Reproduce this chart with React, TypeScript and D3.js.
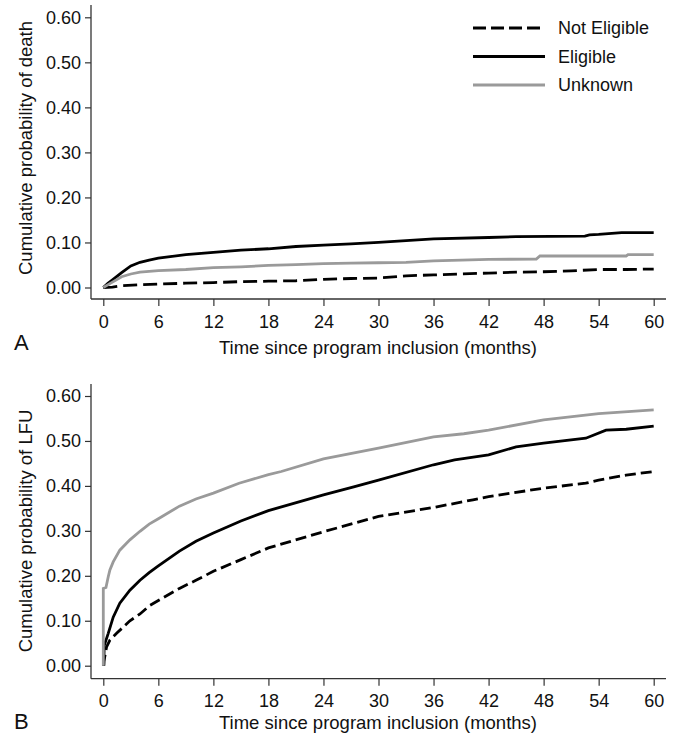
import React, { useEffect, useRef } from 'react';
import * as d3 from 'd3';

// x ticks (months) and y ticks (probability)
const xTicks = [0, 6, 12, 18, 24, 30, 36, 42, 48, 54, 60];
const yTicks = [0, 0.1, 0.2, 0.3, 0.4, 0.5, 0.6];

const legendLabels = ['Not Eligible', 'Eligible', 'Unknown'];

// panel A : cumulative probability of death, [month, value]
const deathNotEligible: [number, number][] = [
  [0, 0], [1, 0.001], [2, 0.004], [4, 0.006], [6, 0.0075], [9, 0.0096], [12, 0.011],
  [15, 0.013], [18, 0.014], [21, 0.015], [24, 0.018], [27, 0.02], [30, 0.021], [33, 0.026],
  [36, 0.028], [39, 0.03], [42, 0.032], [45, 0.034], [48, 0.035], [51, 0.037], [54, 0.04],
  [57, 0.04], [60, 0.041],
];
const deathEligible: [number, number][] = [
  [0, 0], [0.5, 0.009], [1, 0.017], [2, 0.033], [3, 0.048], [4, 0.056], [5, 0.061], [6, 0.065],
  [9, 0.073], [12, 0.078], [15, 0.083], [18, 0.086], [21, 0.091], [24, 0.094], [27, 0.097],
  [30, 0.1], [33, 0.104], [36, 0.108], [42, 0.111], [45, 0.113], [52.5, 0.114], [53, 0.117],
  [54, 0.118], [56.5, 0.122], [60, 0.122],
];
const deathUnknown: [number, number][] = [
  [0, 0], [1, 0.012], [2, 0.024], [3, 0.03], [4, 0.034], [6, 0.0375], [9, 0.04], [12, 0.044],
  [15, 0.046], [18, 0.049], [21, 0.051], [24, 0.053], [27, 0.054], [30, 0.055], [33, 0.056],
  [36, 0.059], [42, 0.0625], [47.2, 0.063], [47.6, 0.07], [57, 0.07], [57.2, 0.073], [60, 0.073],
];

// panel B : cumulative probability of LFU
const lfuNotEligible: [number, number][] = [
  [0.05, 0], [0.07, 0.01], [0.36, 0.042], [0.72, 0.057], [1.45, 0.072], [2.9, 0.1], [4, 0.115],
  [5, 0.133], [6, 0.145], [8.3, 0.172], [10.1, 0.19], [12, 0.21], [15, 0.236], [18, 0.262],
  [24, 0.298], [30, 0.332], [36, 0.352], [40.3, 0.369], [42, 0.376], [48, 0.395], [52.6, 0.406],
  [54, 0.413], [57, 0.424], [60, 0.432],
];
const lfuEligible: [number, number][] = [
  [0.05, 0], [0.1, 0.045], [0.54, 0.072], [1.08, 0.108], [1.8, 0.139], [2.9, 0.168], [4, 0.19],
  [5, 0.207], [6, 0.222], [8.3, 0.255], [10.1, 0.277], [12, 0.295], [15, 0.322], [18, 0.345],
  [24, 0.38], [27.3, 0.398], [30, 0.413], [36, 0.447], [38.3, 0.458], [42, 0.469], [45, 0.487],
  [48, 0.495], [52.6, 0.506], [54.8, 0.524], [57, 0.526], [60, 0.533],
];
const lfuUnknown: [number, number][] = [
  [0, 0], [0, 0.172], [0.29, 0.174], [0.54, 0.198], [0.72, 0.213], [1.08, 0.231], [1.8, 0.257],
  [2.9, 0.28], [4, 0.299], [5, 0.315], [6, 0.327], [8.3, 0.355], [10.1, 0.371], [12, 0.384],
  [14.8, 0.406], [18, 0.425], [19.4, 0.432], [24, 0.46], [30, 0.484], [36, 0.509], [39.3, 0.516],
  [42, 0.524], [48, 0.547], [54, 0.561], [60, 0.569],
];

const FONT = '"Liberation Sans", Arial, Helvetica, sans-serif';
const GRAY = '#9a9a9a';

function drawPanel(svg, o) {
  const x = d3.scaleLinear().domain([0, 60]).range([103.3, 653.7]);
  const y = d3.scaleLinear().domain([0, 0.6]).range([o.y0, o.y6]);
  const g = svg.append('g');

  // axis lines
  g.append('line').attr('x1', 91).attr('x2', 91).attr('y1', o.axTop).attr('y2', o.axY)
    .attr('stroke', '#333').attr('stroke-width', 1.3);
  g.append('line').attr('x1', 91).attr('x2', 666).attr('y1', o.axY).attr('y2', o.axY)
    .attr('stroke', '#333').attr('stroke-width', 1.3);

  const yAx = g.append('g').attr('transform', 'translate(91,0)')
    .call(d3.axisLeft(y).tickValues(yTicks).tickFormat(d3.format('.2f')).tickSize(6).tickPadding(4));
  const xAx = g.append('g').attr('transform', `translate(0,${o.axY})`)
    .call(d3.axisBottom(x).tickValues(xTicks).tickSize(7).tickPadding(9));
  [yAx, xAx].forEach(a => {
    a.select('.domain').remove();
    a.selectAll('line').attr('stroke', '#333').attr('stroke-width', 1.2);
    a.selectAll('text').attr('font-family', FONT).attr('font-size', 18).attr('fill', '#111');
  });

  const line = d3.line<[number, number]>().x(d => x(d[0])).y(d => y(d[1]));
  o.series.forEach(s => {
    g.append('path').attr('d', line(s.data)).attr('fill', 'none')
      .attr('stroke', s.color).attr('stroke-width', 2.8)
      .attr('stroke-dasharray', s.dashed ? o.dash : null);
  });

  g.append('text').attr('transform', `translate(32,${o.yTitleY}) rotate(-90)`)
    .attr('text-anchor', 'middle').attr('font-family', FONT).attr('font-size', 18.5)
    .attr('fill', '#111').text(o.yTitle);
  g.append('text').attr('x', 378).attr('y', o.xTitleY).attr('text-anchor', 'middle')
    .attr('font-family', FONT).attr('font-size', 18.5).attr('fill', '#111')
    .text('Time since program inclusion (months)');
  g.append('text').attr('x', 14).attr('y', o.letterY).attr('font-family', FONT)
    .attr('font-size', 22).attr('fill', '#111').text(o.letter);
}

export default function App() {
  const ref = useRef<SVGSVGElement>(null);

  useEffect(() => {
    const svg = d3.select(ref.current);
    svg.selectAll('*').remove();

    drawPanel(svg, {
      y0: 287.5, y6: 17.3, axTop: 5, axY: 299, xTitleY: 354, letterY: 350, yTitleY: 148,
      yTitle: 'Cumulative probability of death', letter: 'A', dash: '14,6',
      series: [
        { data: deathNotEligible, color: '#000', dashed: true },
        { data: deathEligible, color: '#000', dashed: false },
        { data: deathUnknown, color: GRAY, dashed: false },
      ],
    });
    drawPanel(svg, {
      y0: 665.7, y6: 396, axTop: 384, axY: 678.7, xTitleY: 729, letterY: 729, yTitleY: 531,
      yTitle: 'Cumulative probability of LFU', letter: 'B', dash: '11,5',
      series: [
        { data: lfuNotEligible, color: '#000', dashed: true },
        { data: lfuEligible, color: '#000', dashed: false },
        { data: lfuUnknown, color: GRAY, dashed: false },
      ],
    });

    // legend
    const colors = ['#000', '#000', GRAY];
    const leg = svg.append('g');
    legendLabels.forEach((lab, i) => {
      const ly = 28 + i * 28.5;
      leg.append('line').attr('x1', 473).attr('x2', 545).attr('y1', ly).attr('y2', ly)
        .attr('stroke', colors[i]).attr('stroke-width', 2.8)
        .attr('stroke-dasharray', i === 0 ? '13,5' : null);
      leg.append('text').attr('x', 558).attr('y', ly).attr('dy', '0.35em')
        .attr('font-family', FONT).attr('font-size', 18).attr('fill', '#111').text(lab);
    });
  }, []);

  return (
    <svg ref={ref} width={676} height={734} viewBox="0 0 676 734"
      style={{ position: 'absolute', left: 0, top: 0, background: '#fff' }} />
  );
}
